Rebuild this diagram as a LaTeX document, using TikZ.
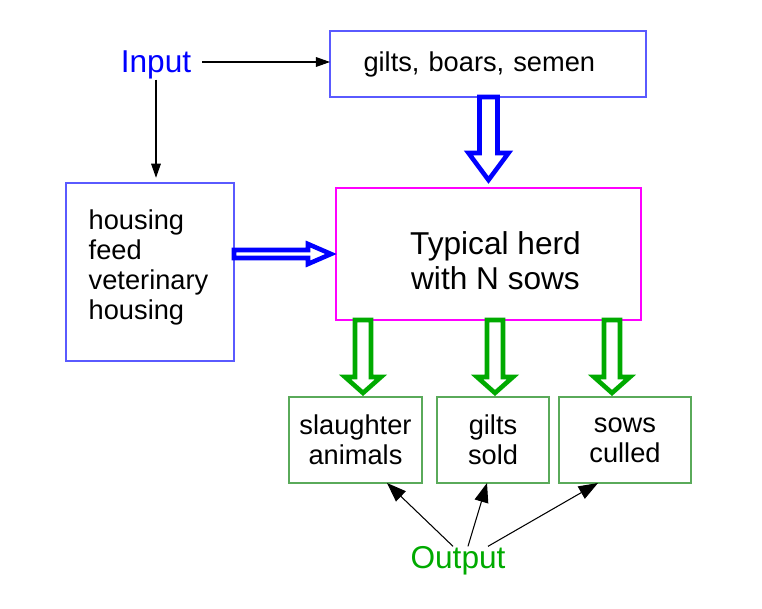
\documentclass[tikz,border=0pt]{standalone}
\usepackage{fontspec}
\setmainfont{Liberation Sans}
\usetikzlibrary{arrows.meta}
\definecolor{inblue}{RGB}{0,0,255}
\definecolor{boxblue}{RGB}{90,90,255}
\definecolor{herdpink}{RGB}{255,0,255}
\definecolor{outgreen}{RGB}{0,170,0}
\definecolor{boxgreen}{RGB}{90,170,90}
\begin{document}
\begin{tikzpicture}[x=0.02cm,y=-0.02cm,
    box/.style = {rectangle,draw,line width=0.8pt,outer sep=0mm,font=\fontsize{15.5}{17}\selectfont},
    inbox/.style = {box,draw=boxblue},
    outbox/.style = {box,draw=boxgreen,align=center,minimum height=1.72cm},
    big/.style = {font=\fontsize{18}{20}\selectfont,inner xsep=2pt,inner ysep=0pt},
    ptr/.style = {draw=black,line width=0.6pt,-{Triangle[length=8pt,width=5.5pt]}},
    outptr/.style = {draw=black,line width=0.6pt,-{Triangle[length=11pt,width=8pt]}},
    fatblue/.style = {draw=inblue,line width=2.6pt},
    fatgreen/.style = {draw=outgreen,line width=2.6pt}]
\useasboundingbox (0,0) rectangle (762,609);
% input side
\node[big,text=inblue] (input) at (156,65) {Input};
\node[inbox,minimum width=6.32cm,minimum height=1.32cm,text width=4.98cm,align=left] (gilts) at (488,64)
    {gilts, boars, semen};
\node[inbox,minimum width=3.36cm,minimum height=3.56cm,
      label={[name=houselist,align=left,font=\fontsize{15.5}{17}\selectfont,xshift=-0.03cm,yshift=0.09cm]center:
      housing\\feed\\veterinary\\housing}] (house) at (150,272) {};
% herd
\node[box,draw=herdpink,minimum width=6.1cm,minimum height=2.64cm,
      label={[name=herdtext,align=center,font=\fontsize{18}{20}\selectfont,xshift=0.14cm,yshift=-0.13cm]center:
      Typical herd\\with N sows}] (herd) at (488.5,254) {};
% output side
\node[outbox,minimum width=2.66cm] (slaughter) at (355.5,440) {slaughter\\animals};
\node[outbox,minimum width=2.24cm] (sold) at (493,440) {gilts\\sold};
\node[outbox,minimum width=2.64cm] (culled) at (625,440) {sows\\culled};
\node[big,text=outgreen] (output) at (458,561) {Output};
% thin arrows
\draw[ptr,shorten <=4pt] ([yshift=0.06cm]input.east) -- ([yshift=0.06cm]input.east -| gilts.west);
\draw[ptr,shorten >=3pt] (input.south) -- (input.south |- house.north);
\draw[outptr] ([xshift=-0.1cm]output.north) -- ([xshift=-0.7cm]slaughter.south east);
\draw[outptr] ([xshift=0.2cm]output.north) -- ([xshift=-0.12cm]sold.south);
\draw[outptr] ([xshift=0.6cm]output.north) -- ([xshift=0.78cm]culled.south west);
% hollow arrows
\draw[fatblue,shift={(herd.north |- gilts.south)}]
    (-9,0) -- (-9,56) -- (-20,56) -- (0,83) -- (20,56) -- (9,56) -- (9,0) -- cycle;
\draw[fatblue,shift={(house.east |- herd.west)}]
    (0,-4) -- (74,-4) -- (74,-10) -- (97,0) -- (74,10) -- (74,4) -- (0,4) -- cycle;
\foreach \x in {363,495,612}
    \draw[fatgreen,shift={(\x,0 |- herd.south)}]
        (-8,0) -- (-8,57) -- (-18,57) -- (0,73) -- (18,57) -- (8,57) -- (8,0) -- cycle;
\end{tikzpicture}
\end{document}
